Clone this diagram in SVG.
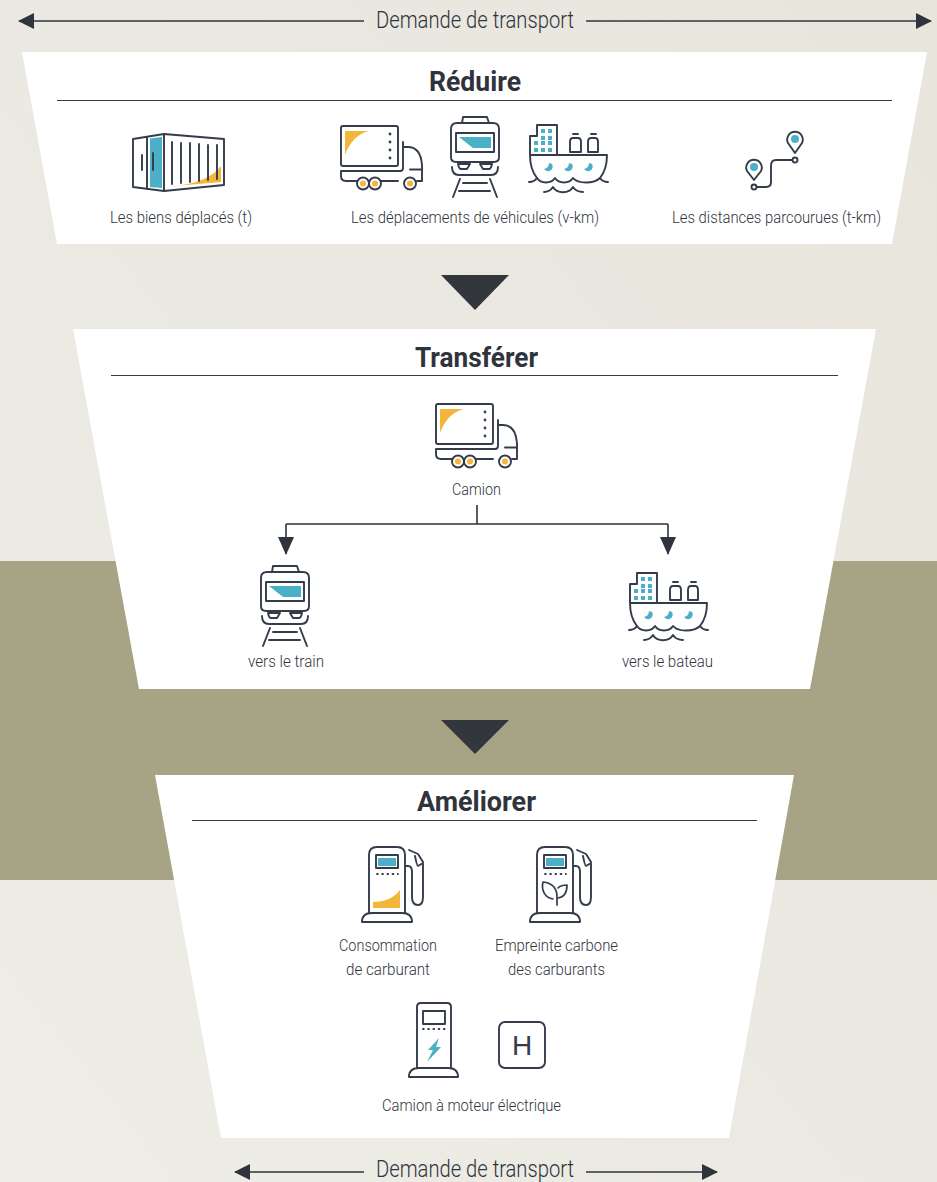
<svg xmlns="http://www.w3.org/2000/svg" xmlns:xlink="http://www.w3.org/1999/xlink" width="937" height="1182" viewBox="0 0 937 1182">
<style>
.ln{fill:none;stroke:#343c4a;stroke-width:1.900;stroke-linecap:round;stroke-linejoin:round}
.teal{fill:#4bafc8}
.yel{fill:#f3b63a}
.panel{fill:#fff}
.rule{stroke:#343c4a;stroke-width:1;fill:none}
.tri{fill:#33363c}
.lbl{font-family:Roboto,"Liberation Sans",sans-serif;font-size:16px;font-weight:300;fill:#2f343c}
.ttl{font-family:Roboto,"Liberation Sans",sans-serif;font-size:28px;font-weight:700;fill:#2f343c}
.dem{font-family:Roboto,"Liberation Sans",sans-serif;font-size:23px;font-weight:300;fill:#2f343c}
.cn{fill:none;stroke:#2f343c;stroke-width:1.600}
</style>
<defs>
<linearGradient id="bg" x1="0" y1="1" x2="1" y2="0"><stop offset="0" stop-color="#eeede6"/><stop offset="1" stop-color="#e7e5dc"/></linearGradient>
<marker id="ah" viewBox="0 0 16 16" refX="15" refY="8" markerWidth="16" markerHeight="16" markerUnits="userSpaceOnUse" orient="auto-start-reverse"><path d="M0 0L16 8L0 16Z" fill="#2f343c"/></marker>
<marker id="ad" viewBox="0 0 18 16" refX="17" refY="8" markerWidth="18" markerHeight="16" markerUnits="userSpaceOnUse" orient="auto"><path d="M0 0L18 8L0 16Z" fill="#2f343c"/></marker>
<g id="truck">
<path class="yel" d="M345 131H369C357 134 350 142 345 155Z"/>
<rect class="ln" x="341" y="126" width="57" height="40" rx="2"/>
<circle cx="390" cy="134" r="1.400" fill="#343c4a"/><circle cx="390" cy="142" r="1.400" fill="#343c4a"/><circle cx="390" cy="150" r="1.400" fill="#343c4a"/><circle cx="390" cy="158" r="1.400" fill="#343c4a"/>
<path class="ln" d="M403 142V168Q403 171 400 171H341V176Q341 181 346 181H357M381 181H398M417 181H422V165C421 153 417 147 408 147H403M410 169.500H422"/>
<circle class="yel" cx="363" cy="183.500" r="3"/><circle class="yel" cx="375" cy="183.500" r="3"/><circle class="yel" cx="410" cy="183.500" r="3"/>
<circle class="ln" cx="363" cy="183.500" r="6"/><circle class="ln" cx="375" cy="183.500" r="6"/><circle class="ln" cx="410" cy="183.500" r="6"/>
</g>
<g id="train">
<path class="teal" d="M459 137H491V148H473Z"/>
<path class="ln" d="M462 123L463 117H487L489 123M457 123H493Q499 123 499 129V157Q499 162 494 162H456Q451 162 451 157V129Q451 123 457 123Z"/>
<rect class="ln" x="456" y="133" width="38" height="19"/>
<path class="ln" d="M458 164H470L467 169H461Q459 169 458 164ZM492 164H480L483 169H489Q491 169 492 164ZM452 167Q452 175 459 175H491Q498 175 498 167M460 179L453 197M490 179L497 197M463 183H487M459 191H490"/>
</g>
<g id="ship">
<path class="teal" d="M541 129h4v4h-4zM548 129h4v4h-4zM541 136h4v4h-4zM548 136h4v4h-4zM534 141h4v4h-4zM541 141h4v4h-4zM548 141h4v4h-4zM534 148h4v4h-4zM541 148h4v4h-4zM548 148h4v4h-4z"/>
<path class="ln" d="M530 155V136H537V125H557V155M530 155H607C607 166 604 173 600 178M530 155C530 166 533 173 537 178"/>
<path class="ln" d="M529 182C533 182 535 181 537 178C541 184 551 184 555 178C559 184 569 184 573 178C578 184 594 184 600 178C602 181 604 182 608 182M544 192C548 192 551 190 553 187C557 194 569 194 573 187C575 190 578 192 583 192"/>
<path class="ln" d="M570 152V142Q570 138 573 138H578Q581 138 581 142V152H570M573 134H578M588 152V142Q588 138 591 138H595Q598 138 598 142V152H588M591 134H596"/>
<path class="teal" d="M549 163L552 164A4.500 4.500 0 1 1 544 169Q549 168 549 163ZM569 163L572 164A4.500 4.500 0 1 1 564 169Q569 168 569 163ZM589 163L592 164A4.500 4.500 0 1 1 584 169Q589 168 589 163Z"/>
</g>
<g id="pump">
<path class="ln" d="M369 913V855Q369 847 377 847H397Q405 847 405 855V913M362 922Q362 913 372 913H402Q412 913 412 922ZM405 866H408Q412 866 412 872V897Q412 905 418 905Q423 905 423 897V862L418 854L409 850M415 856Q417 866 418 866L423 863"/>
<rect class="ln" x="376" y="855" width="22" height="13"/>
<rect class="teal" x="378" y="858" width="18" height="8"/>
<path class="ln" stroke-dasharray="0.800 4.400" d="M377 874H398" style="stroke-width:1.800"/>
</g>
</defs>
<rect width="937" height="1182" fill="url(#bg)"/>
<rect y="561" width="937" height="319" fill="#a6a485"/>

<g id="connectors">
<path class="cn" d="M364 21H19" marker-end="url(#ah)"/>
<path class="cn" d="M586 21H931" marker-end="url(#ah)"/>
<path class="cn" d="M364 1172H235" marker-end="url(#ah)"/>
<path class="cn" d="M586 1172H717" marker-end="url(#ah)"/>
</g>
<text class="dem" x="376" y="27.500" textLength="198" lengthAdjust="spacingAndGlyphs">Demande de transport</text>
<text class="dem" x="376" y="1177" textLength="198" lengthAdjust="spacingAndGlyphs">Demande de transport</text>

<g id="reduire">
<polygon class="panel" points="22,52 927,52 892,244 57,244"/>
<path class="rule" d="M57 100.500H892"/>
<text class="ttl" x="429" y="90.500" textLength="92" lengthAdjust="spacingAndGlyphs">Réduire</text>
</g>
<g id="container">
<path class="teal" d="M150 138.500L162 137V188L150 187Z"/>
<path class="yel" d="M175 186C195 184 212 178 221 166V182Z"/>
<path class="ln" d="M133 139L164 134L224 139V185L164 191L133 187ZM147 137V189M164 134V191"/>
<path class="ln" d="M142 155V170M153 153V170M172 142V184M181 143V183M190 143V182M199 144V181M208 145V180M217 145V179"/>
<text class="lbl" x="110" y="223.300" textLength="142" lengthAdjust="spacingAndGlyphs">Les biens déplacés (t)</text>
</g>
<g id="vehicules">
<use xlink:href="#truck" href="#truck"/>
<use xlink:href="#train" href="#train"/>
<use xlink:href="#ship" href="#ship"/>
<text class="lbl" x="351" y="223.300" textLength="248" lengthAdjust="spacingAndGlyphs">Les déplacements de véhicules (v-km)</text>
</g>
<g id="distances">
<circle class="teal" cx="795" cy="139" r="4"/><circle class="teal" cx="754" cy="167" r="4"/>
<path class="ln" d="M795 153L788 143A7.800 7.800 0 1 1 802 143ZM754 180L747 171A7.800 7.800 0 1 1 761 171ZM792 160H776Q771 160 771 166V182Q771 187 766 187H757"/>
<circle class="ln" cx="795" cy="160" r="2.500"/><circle class="ln" cx="754" cy="187" r="2.500"/>
<text class="lbl" x="672" y="223.300" textLength="209" lengthAdjust="spacingAndGlyphs">Les distances parcourues (t-km)</text>
</g>

<polygon class="tri" id="fleche1" points="441,275 509,275 475,310"/>

<g id="transferer">
<polygon class="panel" points="73,329 876,329 810,689 139,689"/>
<path class="rule" d="M111 375.500H838"/>
<text class="ttl" x="415" y="366.500" textLength="123" lengthAdjust="spacingAndGlyphs">Transférer</text>
</g>
<g id="camion">
<use xlink:href="#truck" href="#truck" x="95" y="278"/>
<text class="lbl" x="452" y="495.300" textLength="49" lengthAdjust="spacingAndGlyphs">Camion</text>
</g>
<g id="connectors2">
<path class="cn" d="M477 505V524M286 524H668M286 524V554" marker-end="url(#ad)"/>
<path class="cn" d="M668 524V554" marker-end="url(#ad)"/>
</g>
<g id="vers-train">
<use xlink:href="#train" href="#train" x="-190" y="449"/>
<text class="lbl" x="248" y="667.300" textLength="76" lengthAdjust="spacingAndGlyphs">vers le train</text>
</g>
<g id="vers-bateau">
<use xlink:href="#ship" href="#ship" x="100" y="448"/>
<text class="lbl" x="622" y="667.300" textLength="91" lengthAdjust="spacingAndGlyphs">vers le bateau</text>
</g>

<polygon class="tri" id="fleche2" points="441,720 509,720 475,754"/>

<g id="ameliorer">
<polygon class="panel" points="155,775 794,775 729,1138 221,1138"/>
<path class="rule" d="M192 820.500H757"/>
<text class="ttl" x="417" y="811.300" textLength="119" lengthAdjust="spacingAndGlyphs">Améliorer</text>
</g>
<g id="consommation">
<path class="yel" d="M373 908V902C385 902 394 898 400 890V908Z"/>
<use xlink:href="#pump" href="#pump"/>
<text class="lbl" x="339" y="951.300" textLength="98" lengthAdjust="spacingAndGlyphs">Consommation</text>
<text class="lbl" x="346" y="975.300" textLength="84" lengthAdjust="spacingAndGlyphs">de carburant</text>
</g>
<g id="empreinte">
<use xlink:href="#pump" href="#pump" x="168"/>
<path class="ln" d="M557 905V897C557 888 552 883 543 882C541 890 545 898 553 899M558 898C565 897 567 892 567 885C563 885 560 886 558 888" style="stroke-width:1.700"/>
<text class="lbl" x="495" y="951.300" textLength="123" lengthAdjust="spacingAndGlyphs">Empreinte carbone</text>
<text class="lbl" x="508" y="975.300" textLength="97" lengthAdjust="spacingAndGlyphs">des carburants</text>
</g>
<g id="electrique">
<path class="ln" d="M417 1068V1007Q417 1003 421 1003H447Q451 1003 451 1007V1068M409 1077Q409 1068 419 1068H448Q458 1068 458 1077Z"/>
<rect class="ln" x="423" y="1011" width="22" height="13"/>
<path class="ln" stroke-dasharray="0.800 4.400" d="M423 1029H446" style="stroke-width:1.800"/>
<path class="teal" d="M439 1038L428 1050H433L427 1062L441 1047H436Z"/>
<rect class="ln" x="499" y="1022" width="46" height="46" rx="6"/>
<text x="522" y="1055" text-anchor="middle" font-family="'Liberation Sans',sans-serif" font-size="28" fill="#343c4a">H</text>
<text class="lbl" x="382" y="1111.300" textLength="179" lengthAdjust="spacingAndGlyphs">Camion à moteur électrique</text>
</g>
</svg>
